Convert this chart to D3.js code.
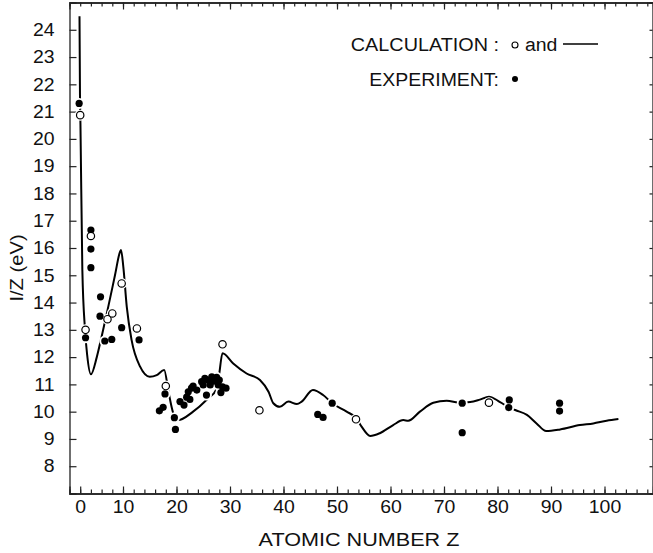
<!DOCTYPE html>
<html>
<head>
<meta charset="utf-8">
<script src="https://cdn.jsdelivr.net/npm/d3@7/dist/d3.min.js"></script>
<style>
  body { margin: 0; background: #fff; }
  svg { display: block; }
  text { font-family: "Liberation Sans", Arial, Helvetica, sans-serif; fill: #111; }
</style>
</head>
<body>
<svg id="chart"></svg>
<script>
// I/Z versus atomic number
var curvePoints = [
  [1.87,24.5],[1.96,21.6],[2.05,20.5],[2.4,15.2],[2.9,13.0],[3.3,12.08],[4.0,11.37],
  [5.1,12.0],[6.0,12.75],[7.25,13.85],[8.5,15.0],[9.44,15.86],[9.63,15.93],[10.06,15.31],
  [10.7,13.85],[11.6,12.63],[13.2,11.65],[15.0,11.28],[16.3,11.34],[17.7,11.53],[18.5,10.73],
  [19.4,9.94],[20.3,9.69],[23.1,10.0],[25.6,10.43],[27.6,10.86],[28.0,11.4],[28.6,12.14],
  [30.6,11.77],[33.1,11.4],[35.6,11.16],[37.2,10.73],[38.1,10.31],[39.3,10.18],[40.9,10.37],
  [42.5,10.28],[43.4,10.37],[45.5,10.79],[47.4,10.61],[49.1,10.31],[51.8,10.0],[53.6,9.76],
  [54.6,9.45],[56.2,9.11],[58.0,9.21],[60.5,9.51],[62.4,9.69],[63.3,9.67],[65.5,10.0],
  [68.0,10.33],[70.5,10.4],[73.0,10.33],[74.9,10.35],[76.7,10.44],[78.4,10.55],[80.1,10.4],
  [81.4,10.24],[83.3,10.06],[85.5,9.88],[87.3,9.57],[89.1,9.29],[91.7,9.35],[95.4,9.51],
  [97.9,9.57],[100.4,9.67],[102.6,9.73]
];

var calcPoints = [
  [2,20.87],[3,13.0],[4,16.44],[7.1,13.39],[8,13.6],[9.75,14.7],[12.6,13.05],
  [18,10.94],[28.6,12.47],[35.5,10.05],[53.55,9.72],[78.4,10.33]
];

var exptPoints = [
  [1.8,21.3],[3,12.71],[4,16.66],[4,15.96],[4,15.28],[5.8,14.21],[5.7,13.5],[6.6,12.59],
  [7.9,12.65],[9.75,13.08],[13,12.63],[17.85,10.65],[17.5,10.16],[16.8,10.03],
  [19.6,9.78],[19.8,9.35],
  [20.65,10.37],[21.4,10.24],[21.9,10.53],[22.5,10.45],[22.2,10.73],[22.8,10.86],[23.1,10.94],
  [23.8,10.79],[24.7,11.1],[25.3,11.22],[25.6,10.61],[25.9,11.16],[26.6,11.28],[27.0,11.12],
  [27.5,11.26],[28.0,11.16],[28.3,10.7],[28.6,10.91],[29.25,10.86],[25.0,10.98],[26.3,10.98],
  [27.8,10.98],
  [46.4,9.9],[47.4,9.79],[49.1,10.31],[73.4,10.31],[73.4,9.23],
  [82.2,10.43],[82.1,10.15],[91.6,10.31],[91.6,10.02]
];

var xMajorTicks = [2,10,20,30,40,50,60,70,80,90,100];
var xTickLabels = ["0","10","20","30","40","50","60","70","80","90","100"];
var yTicks = [8,9,10,11,12,13,14,15,16,17,18,19,20,21,22,23,24];

var width = 653, height = 553;
var plotLeft = 69.5, plotRight = 653, plotTop = 2.5, plotBottom = 493.5;
var fontSize = 18;

var svg = d3.select("#chart").attr("width", width).attr("height", height);

var x = d3.scaleLinear().domain([0, (plotRight - plotLeft) / 5.35]).range([plotLeft, plotRight]);
var y = d3.scaleLinear().domain([7, 25]).range([plotBottom, plotTop]);

var xMinor = d3.range(2, 109, 2);
var axisColor = "#222";

// stretch text along its baseline, the figure's lettering is wide
function widen(sel, k) {
  sel.each(function() {
    var len = this.getComputedTextLength();
    d3.select(this).attr("textLength", len * (k || 1.08)).attr("lengthAdjust", "spacingAndGlyphs");
  });
}

// bottom axis
var gx = svg.append("g").attr("transform", "translate(0," + plotBottom + ")")
  .call(d3.axisBottom(x).tickValues(xMinor).tickSize(-4).tickFormat(""));
gx.append("g").call(d3.axisBottom(x).tickValues(xMajorTicks).tickSize(-7)
    .tickFormat(function(d, i) { return xTickLabels[i]; }).tickPadding(13));
// top axis
var gt = svg.append("g").attr("transform", "translate(0," + plotTop + ")")
  .call(d3.axisTop(x).tickValues(xMinor).tickSize(-4).tickFormat(""));
gt.append("g").call(d3.axisTop(x).tickValues(xMajorTicks.slice(1)).tickSize(-7).tickFormat(""));
// left axis
var gy = svg.append("g").attr("transform", "translate(" + plotLeft + ",0)")
  .call(d3.axisLeft(y).tickValues(yTicks).tickSize(-7).tickPadding(15));
// right ticks
svg.append("g").attr("transform", "translate(" + (plotRight - 0.5) + ",0)")
  .call(d3.axisRight(y).tickValues(yTicks.concat([25])).tickSize(-3).tickFormat(""));

svg.selectAll(".domain").attr("stroke", axisColor).attr("stroke-width", 1.3);
svg.selectAll(".tick line").attr("stroke", axisColor).attr("stroke-width", 1.2);
svg.selectAll(".tick text").attr("font-size", fontSize).attr("font-family", null).attr("fill", "#111");
gx.selectAll(".tick text").attr("dy", "0.35em");
widen(svg.selectAll(".tick text").filter(function() { return this.textContent !== ""; }));

// calculated curve
var line = d3.line().x(function(d) { return x(d[0]); }).y(function(d) { return y(d[1]); })
  .curve(d3.curveMonotoneX);
svg.append("path").datum(curvePoints).attr("d", line)
  .attr("fill", "none").attr("stroke", "#000").attr("stroke-width", 2);

// white halos behind the markers
svg.append("g").selectAll("circle").data(calcPoints.concat(exptPoints)).enter().append("circle")
  .attr("cx", function(d) { return x(d[0]); })
  .attr("cy", function(d) { return y(d[1]); })
  .attr("r", 5.5).attr("fill", "#fff");

svg.append("g").selectAll("circle").data(exptPoints).enter().append("circle")
  .attr("cx", function(d) { return x(d[0]); })
  .attr("cy", function(d) { return y(d[1]); })
  .attr("r", 3.6).attr("fill", "#000");

svg.append("g").selectAll("circle").data(calcPoints).enter().append("circle")
  .attr("cx", function(d) { return x(d[0]); })
  .attr("cy", function(d) { return y(d[1]); })
  .attr("r", 3.7).attr("fill", "#fff").attr("stroke", "#000").attr("stroke-width", 1.2);

// axis titles
svg.append("text").attr("x", 359).attr("y", 546).attr("text-anchor", "middle")
  .attr("font-size", fontSize).text("ATOMIC NUMBER Z").call(widen, 1.2);
svg.append("text").attr("transform", "translate(23,268) rotate(-90)").attr("text-anchor", "middle")
  .attr("font-size", fontSize).text("I/Z (eV)").call(widen, 1.12);

// legend
var lg = svg.append("g");
lg.append("text").attr("x", 499).attr("y", 51).attr("text-anchor", "end")
  .attr("font-size", fontSize).text("CALCULATION :").call(widen, 1.1);
lg.append("circle").attr("cx", 515).attr("cy", 45).attr("r", 3)
  .attr("fill", "#fff").attr("stroke", "#000").attr("stroke-width", 1.1);
lg.append("text").attr("x", 525).attr("y", 51).attr("font-size", fontSize).text("and").call(widen);
lg.append("line").attr("x1", 563).attr("x2", 598).attr("y1", 44).attr("y2", 44)
  .attr("stroke", "#000").attr("stroke-width", 1.6);
lg.append("text").attr("x", 499).attr("y", 86).attr("text-anchor", "end")
  .attr("font-size", fontSize).text("EXPERIMENT:").call(widen);
lg.append("circle").attr("cx", 515).attr("cy", 79).attr("r", 3).attr("fill", "#000");
</script>
</body>
</html>
